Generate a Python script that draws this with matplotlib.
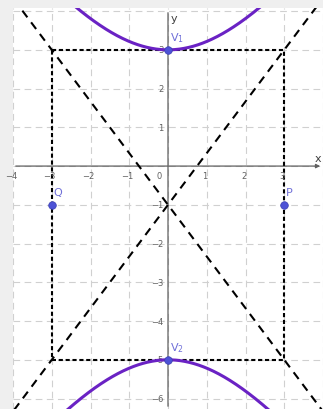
import numpy as np
import matplotlib
matplotlib.use("Agg")
from matplotlib import pyplot as plt

# hyperbola (y+1)^2/16 - x^2/9 = 1
center = (0, -1)
a_len = 4  # vertical semi-axis
b_len = 3  # horizontal semi-axis

point_names = ["V$_1$", "V$_2$", "P", "Q"]
point_x = [0, 0, 3, -3]
point_y = [3, -5, -1, -1]

x_ticks = [-4, -3, -2, -1, 1, 2, 3]
y_ticks = [-6, -5, -4, -3, -2, -1, 1, 2, 3]

XMIN, XMAX = -4.0, 4.0
YMIN, YMAX = -6.27, 4.08

fig = plt.figure(figsize=(3.23, 4.10), dpi=100)
fig.patch.set_facecolor("#efefef")
ax = fig.add_axes([13 / 323, 0, 310 / 323, 401 / 410])
ax.set_xlim(XMIN, XMAX)
ax.set_ylim(YMIN, YMAX)
ax.set_facecolor("white")
for s in ax.spines.values():
    s.set_visible(False)
ax.set_xticks([])
ax.set_yticks([])

grid_col = "#d0d0d0"
for gx in range(-4, 5):
    ax.axvline(gx, color=grid_col, lw=0.8, ls=(0, (6, 4)), zorder=0)
for gy in range(-6, 5):
    ax.axhline(gy, color=grid_col, lw=0.8, ls=(0, (6, 4)), zorder=0)

# axes
ax.annotate("", xy=(XMAX, 0), xytext=(XMIN, 0),
            arrowprops=dict(arrowstyle="-|>", color="#606060", lw=0.9, mutation_scale=6), zorder=1)
ax.annotate("", xy=(0, YMAX - 0.05), xytext=(0, YMIN),
            arrowprops=dict(arrowstyle="-", color="#606060", lw=0.9), zorder=1)
ax.text(XMAX - 0.12, 0.08, "x", fontsize=8, color="#404040", ha="center", va="bottom")
ax.text(0.07, YMAX - 0.12, "y", fontsize=8, color="#404040", ha="left", va="top")

lab_col = "#606060"
for t in x_ticks:
    ax.text(t - 0.05, -0.12, str(t).replace("-", "\u2212"), fontsize=6, color=lab_col,
            ha="center", va="top")
ax.text(-0.22, -0.12, "0", fontsize=6, color=lab_col, ha="center", va="top")
for t in y_ticks:
    ax.text(-0.12, t, str(t).replace("-", "\u2212"), fontsize=6, color=lab_col,
            ha="right", va="center")

# asymptotes
xs = np.linspace(XMIN, XMAX, 200)
for sgn in (1, -1):
    ax.plot(xs, center[1] + sgn * a_len / b_len * xs, color="black", lw=1.5,
            ls=(0, (4, 3)), zorder=2)

# rectangle
rx = [center[0] - b_len, center[0] + b_len, center[0] + b_len, center[0] - b_len, center[0] - b_len]
ry = [center[1] + a_len, center[1] + a_len, center[1] - a_len, center[1] - a_len, center[1] + a_len]
ax.plot(rx, ry, color="black", lw=1.5, ls=(0, (2, 1.3)), zorder=2)

# hyperbola branches
hx = np.linspace(XMIN, XMAX, 400)
dy = a_len * np.sqrt(1 + hx ** 2 / b_len ** 2)
ax.plot(hx, center[1] + dy, color="#6a22c4", lw=2.2, zorder=3)
ax.plot(hx, center[1] - dy, color="#6a22c4", lw=2.2, zorder=3)

# points
ax.scatter(point_x, point_y, s=30, color="#4d52d6", edgecolor="#3a3fb0", lw=0.5, zorder=4)
offsets = {"V$_1$": (0.05, 0.15), "V$_2$": (0.05, 0.15), "P": (0.05, 0.2), "Q": (0.05, 0.2)}
for n, px, py in zip(point_names, point_x, point_y):
    ox, oy = offsets[n]
    ax.text(px + ox, py + oy, n, fontsize=8, color="#7070d8", ha="left", va="bottom", zorder=5)

fig.savefig("out.png", dpi=100, facecolor=fig.get_facecolor())
